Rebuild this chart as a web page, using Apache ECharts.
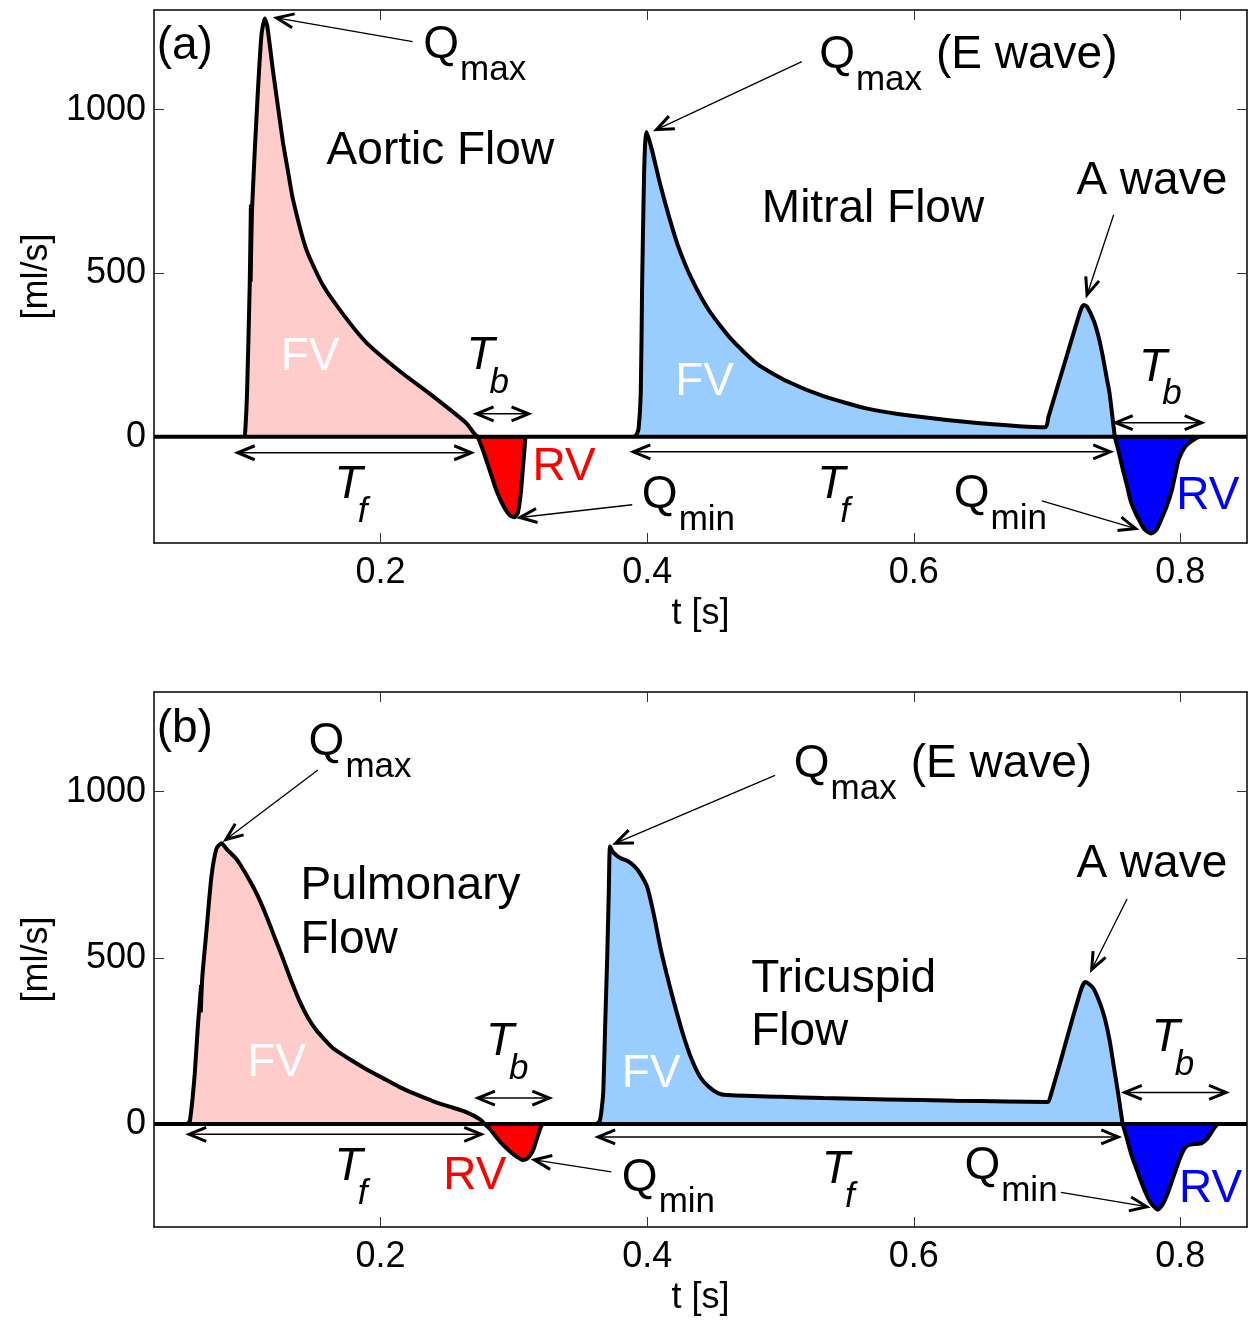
<!DOCTYPE html>
<html><head><meta charset="utf-8">
<script src="https://cdn.jsdelivr.net/npm/echarts@6/dist/echarts.min.js"></script>
<style>html,body{margin:0;padding:0;background:#fff}#c{width:1251px;height:1321px}</style>
</head><body><div id="c"></div>
<script>
// ---------- data ----------
const xTicks = [0.2, 0.4, 0.6, 0.8];
const yTicks = [0, 500, 1000];

// Panel (a)
const aorticFV = [[0.0975,0],[0.0983,8],[0.0998,135],[0.1018,463],[0.1027,709],[0.1022,474],[0.1030,709],[0.1025,474],[0.1036,700],[0.1073,1009],[0.1106,1227],[0.1131,1279],[0.1150,1255],[0.1193,1118],[0.1230,1009],[0.1268,899],[0.1305,812],[0.1343,725],[0.1443,572],[0.1568,463],[0.1718,375],[0.1893,288],[0.2142,201],[0.2392,124],[0.2642,42],[0.2704,9],[0.2729,0]];
const aorticRV = [[0.2729,0],[0.2767,-40],[0.2817,-101],[0.2867,-162],[0.2917,-208],[0.2967,-239],[0.3004,-246],[0.3030,-232],[0.3050,-180],[0.3065,-110],[0.3078,-45],[0.3087,0]];
const mitralFV = [[0.3905,0],[0.3922,8],[0.3936,26],[0.3952,135],[0.3962,463],[0.3976,790],[0.3985,899],[0.3995,932],[0.4035,878],[0.4100,768],[0.4166,670],[0.4232,583],[0.4332,484],[0.4464,386],[0.4629,299],[0.4827,222],[0.5058,168],[0.5322,124],[0.5652,86],[0.5982,64],[0.6477,42],[0.6989,29],[0.7010,60],[0.7150,250],[0.7250,385],[0.7275,403],[0.7300,398],[0.7352,353],[0.7390,300],[0.7419,244],[0.7445,185],[0.7468,135],[0.7494,48],[0.7508,0]];
const mitralRV = [[0.7508,0],[0.7540,-50],[0.7569,-101],[0.7600,-150],[0.7625,-193],[0.7660,-230],[0.7690,-254],[0.7730,-283],[0.7781,-296],[0.7820,-285],[0.7860,-250],[0.7900,-210],[0.7937,-162],[0.7965,-110],[0.7987,-70],[0.8037,-30],[0.8100,-9],[0.8140,0]];

// Panel (b)
const pulmonaryFV = [[0.0550,0],[0.0569,9],[0.0590,80],[0.0606,153],[0.0630,300],[0.0644,369],[0.0653,417],[0.0648,336],[0.0656,417],[0.0651,336],[0.0662,440],[0.0694,583],[0.0731,745],[0.0769,829],[0.0806,845],[0.0850,825],[0.0919,797],[0.1018,733],[0.1080,685],[0.1143,626],[0.1205,562],[0.1268,497],[0.1330,430],[0.1393,369],[0.1455,320],[0.1518,282],[0.1580,254],[0.1643,228],[0.1768,195],[0.1893,165],[0.2017,138],[0.2142,111],[0.2267,89],[0.2392,69],[0.2517,52],[0.2642,36],[0.2742,15],[0.2780,0]];
const pulmonaryRV = [[0.2780,0],[0.2820,-15],[0.2867,-39],[0.2917,-62],[0.2967,-81],[0.3020,-98],[0.3066,-108],[0.3100,-104],[0.3129,-90],[0.3150,-72],[0.3167,-51],[0.3190,-22],[0.3212,0]];
const tricuspidFV = [[0.3625,0],[0.3645,10],[0.3660,50],[0.3671,100],[0.3685,300],[0.3700,500],[0.3712,700],[0.3721,835],[0.3740,820],[0.3771,808],[0.3800,800],[0.3850,792],[0.3903,776],[0.3950,752],[0.4001,712],[0.4050,630],[0.4100,529],[0.4150,445],[0.4199,369],[0.4265,275],[0.4332,196],[0.4400,140],[0.4464,111],[0.4530,93],[0.4596,87],[0.5000,82],[0.5322,78],[0.5800,74],[0.6312,70],[0.6700,68],[0.7006,66],[0.7030,90],[0.7100,187],[0.7200,330],[0.7260,410],[0.7286,427],[0.7320,420],[0.7352,405],[0.7400,360],[0.7435,315],[0.7470,250],[0.7500,175],[0.7530,100],[0.7550,46],[0.7567,0]];
const tricuspidRV = [[0.7567,0],[0.7600,-45],[0.7633,-93],[0.7680,-145],[0.7732,-200],[0.7780,-238],[0.7831,-258],[0.7870,-240],[0.7913,-200],[0.7960,-145],[0.7996,-104],[0.8030,-75],[0.8060,-64],[0.8120,-60],[0.8161,-58],[0.8200,-45],[0.8227,-29],[0.8255,-12],[0.8277,0]];

const baseline = [[0.03,0],[0.85,0]];

// annotations (data coordinates)
const labels = [
  {p:0, at:[0.032,1193], main:'(a)'},
  {p:0, at:[0.232,1196], main:'Q', sub:'max'},
  {p:0, at:[0.1595,872], main:'Aortic Flow'},
  {p:0, at:[0.486,694], main:'Mitral Flow'},
  {p:0, at:[0.529,1165], main:'Q', sub:'max', after:'(E wave)'},
  {p:0, at:[0.722,780], main:'A wave'},
  {p:0, at:[0.125,242], main:'FV', color:'#ffffff'},
  {p:0, at:[0.421,165], main:'FV', color:'#ffffff'},
  {p:0, at:[0.2644,245], main:'T', sub:'b', italic:true},
  {p:0, at:[0.314,-95], main:'RV', color:'#ff0000'},
  {p:0, at:[0.1655,-147], main:'T', sub:'f', italic:true},
  {p:0, at:[0.396,-180], main:'Q', sub:'min'},
  {p:0, at:[0.5275,-147], main:'T', sub:'f', italic:true},
  {p:0, at:[0.630,-177], main:'Q', sub:'min'},
  {p:0, at:[0.769,211], main:'T', sub:'b', italic:true},
  {p:0, at:[0.797,-183], main:'RV', color:'#0000ff'},

  {p:1, at:[0.032,1189], main:'(b)'},
  {p:1, at:[0.146,1150], main:'Q', sub:'max'},
  {p:1, at:[0.140,715], main:'Pulmonary'},
  {p:1, at:[0.140,553], main:'Flow'},
  {p:1, at:[0.510,1081], main:'Q', sub:'max', after:'(E wave)'},
  {p:1, at:[0.478,435], main:'Tricuspid'},
  {p:1, at:[0.478,276], main:'Flow'},
  {p:1, at:[0.722,781], main:'A wave'},
  {p:1, at:[0.100,183], main:'FV', color:'#ffffff'},
  {p:1, at:[0.381,150], main:'FV', color:'#ffffff'},
  {p:1, at:[0.279,246], main:'T', sub:'b', italic:true},
  {p:1, at:[0.247,-156], main:'RV', color:'#ff0000'},
  {p:1, at:[0.1655,-129], main:'T', sub:'f', italic:true},
  {p:1, at:[0.381,-162], main:'Q', sub:'min'},
  {p:1, at:[0.531,-138], main:'T', sub:'f', italic:true},
  {p:1, at:[0.638,-126], main:'Q', sub:'min'},
  {p:1, at:[0.7785,258], main:'T', sub:'b', italic:true},
  {p:1, at:[0.799,-198], main:'RV', color:'#0000ff'}
];
const arrows = [
  {p:0, from:[0.224,1208], to:[0.122,1281]},
  {p:0, from:[0.516,1147], to:[0.407,939]},
  {p:0, from:[0.750,679], to:[0.730,434]},
  {p:0, from:[0.272,70], to:[0.311,70], both:true},
  {p:0, from:[0.0928,-49], to:[0.268,-49], both:true},
  {p:0, from:[0.3888,-208], to:[0.3045,-247]},
  {p:0, from:[0.3896,-46], to:[0.7474,-46], both:true},
  {p:0, from:[0.6961,-196], to:[0.7665,-281]},
  {p:0, from:[0.7515,43], to:[0.816,43], both:true},

  {p:1, from:[0.153,1065], to:[0.0839,856]},
  {p:1, from:[0.4959,1049], to:[0.3764,845]},
  {p:1, from:[0.760,677], to:[0.7335,465]},
  {p:1, from:[0.273,78], to:[0.3266,78], both:true},
  {p:1, from:[0.0564,-31], to:[0.2755,-31], both:true},
  {p:1, from:[0.3731,-144], to:[0.3154,-108]},
  {p:1, from:[0.3632,-39], to:[0.7534,-39], both:true},
  {p:1, from:[0.7104,-206], to:[0.7748,-249]},
  {p:1, from:[0.7583,95], to:[0.8343,95], both:true}
];

// ---------- chart ----------
const FONT = '"Liberation Sans", Arial, Helvetica, sans-serif';
const PINK = '#ffcccc', LBLUE = '#99ccff', RED = '#ff0000', BLUE = '#0000ff';
const grids = [
  {left:154, top:10, width:1093, height:533, ymin:-325, ymax:1305},
  {left:154, top:692, width:1093, height:535, ymin:-310, ymax:1300}
];

const xAxes = [], yAxes = [];
grids.forEach((g, gi) => {
  const base = {type:'value', gridIndex:gi, min:0.03, max:0.85, splitLine:{show:false},
    axisLine:{show:true, onZero:false, lineStyle:{color:'#000', width:1.5}},
    axisTick:{show:true, inside:true, length:10, customValues:xTicks, lineStyle:{color:'#333', width:1}}};
  xAxes.push(Object.assign({}, base, {position:'bottom',
    axisLabel:{show:true, customValues:xTicks, margin:12, fontSize:36, color:'#000', fontFamily:FONT,
      formatter: v => String(v)},
    name:'t [s]', nameLocation:'middle', nameGap:53, nameTextStyle:{fontSize:36, color:'#000', fontFamily:FONT}}));
  xAxes.push(Object.assign({}, base, {position:'top', axisLabel:{show:false}}));
  const ybase = {type:'value', gridIndex:gi, min:g.ymin, max:g.ymax, splitLine:{show:false},
    axisLine:{show:true, onZero:false, lineStyle:{color:'#000', width:1.5}},
    axisTick:{show:true, inside:true, length:10, customValues:yTicks, lineStyle:{color:'#333', width:1}}};
  yAxes.push(Object.assign({}, ybase, {position:'left',
    axisLabel:{show:true, customValues:yTicks, margin:8, fontSize:36, color:'#000', fontFamily:FONT,
      formatter: v => String(v)},
    name:'[ml/s]', nameLocation:'middle', nameGap:96, nameRotate:90,
    nameTextStyle:{fontSize:36, color:'#000', fontFamily:FONT}}));
  yAxes.push(Object.assign({}, ybase, {position:'right', axisLabel:{show:false}}));
});

function seg(data, fill, gi) {
  return {type:'line', xAxisIndex:gi*2, yAxisIndex:gi*2, data:data, showSymbol:false, smooth:0.2,
    lineStyle:{color:'#000', width:4}, areaStyle:{color:fill, opacity:1, origin:0}, z:2, silent:true};
}
function base(gi) {
  return {type:'line', xAxisIndex:gi*2, yAxisIndex:gi*2, data:baseline, showSymbol:false,
    lineStyle:{color:'#000', width:4}, z:3, silent:true};
}

const series = [
  seg(aorticFV, PINK, 0), seg(aorticRV, RED, 0), seg(mitralFV, LBLUE, 0), seg(mitralRV, BLUE, 0), base(0),
  seg(pulmonaryFV, PINK, 1), seg(pulmonaryRV, RED, 1), seg(tricuspidFV, LBLUE, 1), seg(tricuspidRV, BLUE, 1), base(1)
];
const panelSeries = [0, 5];

const chart = echarts.init(document.getElementById('c'), null, {renderer:'canvas'});
chart.setOption({
  animation:false, backgroundColor:'#fff',
  grid: grids.map(g => ({left:g.left, top:g.top, width:g.width, height:g.height, containLabel:false})),
  xAxis: xAxes, yAxis: yAxes, series: series
});

// ---------- annotations ----------
const mctx = document.createElement('canvas').getContext('2d');
function textW(t, size, italic) {
  mctx.font = (italic ? 'italic ' : '') + size + 'px ' + FONT;
  return mctx.measureText(t).width;
}
function px(p, pt) { return chart.convertToPixel({seriesIndex: panelSeries[p]}, pt); }

const MAIN = 46, SUB = 35;
const els = [];
function txt(t, x, y, size, color, italic) {
  els.push({type:'text', z:100, style:{text:t, x:x, y:y, fill:color, fontSize:size, fontFamily:FONT,
    fontStyle: italic ? 'italic' : 'normal', align:'left', verticalAlign:'middle',
    textAlign:'left', textVerticalAlign:'middle'}});
}
labels.forEach(l => {
  const [x, y] = px(l.p, l.at);
  const color = l.color || '#000';
  txt(l.main, x, y, MAIN, color, l.italic);
  if (l.sub) {
    const w = textW(l.main, MAIN, l.italic);
    const sx = l.italic ? x + w - 5 : x + w + 1;
    const sy = l.italic ? y + 27 : y + 25;
    txt(l.sub, sx, sy, SUB, color, l.italic);
    if (l.after) {
      const sw = textW(l.sub, SUB, false);
      txt(l.after, sx + sw + 14, y, MAIN, color, false);
    }
  }
});
function head(tip, ang) {
  const L = 17, W = 7;
  const c = Math.cos(ang), s = Math.sin(ang);
  const p1 = [tip[0] - L*c + W*s, tip[1] - L*s - W*c];
  const p2 = [tip[0] - L*c - W*s, tip[1] - L*s + W*c];
  els.push({type:'polyline', z:100, shape:{points:[p1, tip, p2]},
    style:{stroke:'#000', lineWidth:3, fill:null, lineJoin:'miter'}});
}
arrows.forEach(a => {
  const f = px(a.p, a.from), t = px(a.p, a.to);
  els.push({type:'line', z:100, shape:{x1:f[0], y1:f[1], x2:t[0], y2:t[1]},
    style:{stroke:'#000', lineWidth: a.both ? 1.5 : 1.3}});
  const ang = Math.atan2(t[1]-f[1], t[0]-f[0]);
  head(t, ang);
  if (a.both) head(f, ang + Math.PI);
});
chart.setOption({graphic:{elements:els}});
</script>
</body></html>
